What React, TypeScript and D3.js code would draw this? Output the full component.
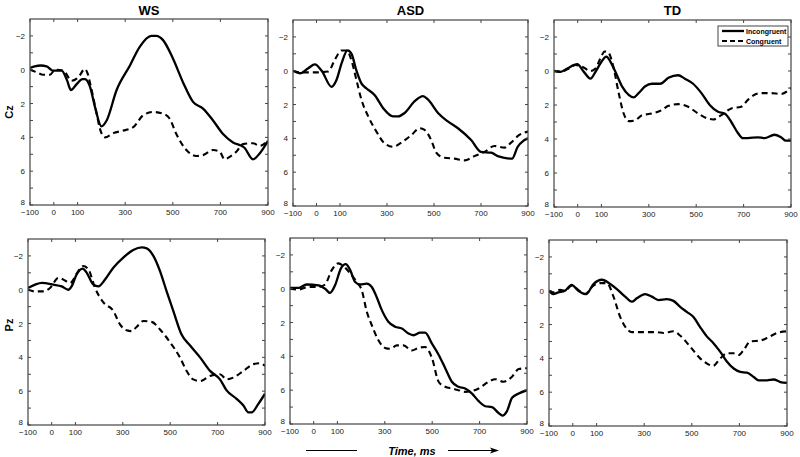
import React from 'react';
import * as d3 from 'd3';

type P = [number, number];

const groups = ['WS', 'ASD', 'TD'];
const electrodes = ['Cz', 'Pz'];
const xTickValues = [-100, 0, 100, 300, 500, 700, 900];
const yMinorTicks = [-2, -1, 0, 1, 2, 3, 4, 5, 6, 7, 8];
const yLabelTicks = [-2, 0, 2, 4, 6, 8];
const legendLabels = ['Incongruent', 'Congruent'];

// WS Cz
const wsCzInc: P[] = [[-100,-0.1],[-80,-0.2],[-55,-0.25],[-30,-0.2],[-5,0.05],[33,0.05],[55,0.6],[72,1.2],[96,0.85],[120,0.55],[131,0.55],[152,1.0],[173,2.2],[200,3.35],[222,3.0],[264,1.2],[320,-0.25],[361,-1.35],[410,-2.0],[431,-2.0],[459,-1.75],[501,-0.65],[543,0.75],[585,1.9],[627,2.3],[669,3.0],[711,3.8],[753,4.3],[800,4.6],[837,5.3],[865,4.95],[900,4.2]];
const wsCzCon: P[] = [[-100,0],[-72,0.15],[-44,0.3],[-16,0.3],[5,0],[40,0.05],[75,0.65],[103,0.45],[131,-0.05],[140,0.15],[159,1.2],[180,2.6],[194,3.5],[215,4.0],[250,3.75],[292,3.6],[334,3.4],[375,2.7],[417,2.5],[459,2.6],[487,2.9],[515,3.8],[557,4.75],[599,5.1],[627,5.05],[669,4.75],[697,4.85],[718,5.3],[739,5.15],[767,4.85],[795,4.4],[837,4.35],[865,4.5],[900,4.2]];
// ASD Cz
const asdCzInc: P[] = [[-100,0],[-70,0.15],[-35,-0.15],[-7,-0.37],[22,0],[64,0.95],[85,0.55],[107,-0.45],[132,-1.2],[149,-1.0],[170,0],[191,0.75],[213,1.05],[248,1.45],[283,2.2],[326,2.7],[347,2.7],[375,2.5],[418,1.8],[453,1.5],[474,1.7],[517,2.5],[559,3.0],[602,3.4],[658,4.1],[700,4.8],[743,4.85],[771,5.05],[800,5.15],[832,5.2],[856,4.5],[880,4.15],[900,4.0]];
const asdCzCon: P[] = [[-100,0],[-63,0.1],[-7,0.1],[50,0.05],[78,-0.65],[107,-1.2],[128,-1.2],[149,-0.6],[170,0.55],[191,1.7],[220,2.7],[255,3.6],[290,4.3],[326,4.5],[361,4.25],[404,3.8],[439,3.4],[460,3.5],[488,4.1],[510,4.85],[545,5.15],[587,5.2],[630,5.3],[672,5.05],[715,4.8],[757,4.45],[800,4.55],[828,4.25],[863,3.8],[900,3.6]];
// TD Cz
const tdCzInc: P[] = [[-100,0],[-72,0.05],[-44,-0.15],[-2,-0.4],[26,0.05],[54,0.45],[75,0.05],[96,-0.45],[121,-0.85],[138,-0.55],[159,0.05],[187,0.9],[215,1.4],[236,1.55],[257,1.3],[285,0.9],[313,0.75],[348,0.75],[383,0.4],[424,0.25],[452,0.45],[487,0.75],[522,1.3],[557,2.0],[592,2.4],[620,2.5],[648,3.0],[676,3.65],[697,3.95],[718,3.95],[760,3.9],[788,3.95],[830,3.75],[858,3.9],[879,4.1],[900,4.1]];
const tdCzCon: P[] = [[-100,0],[-72,0.05],[-37,-0.15],[-9,-0.35],[19,-0.25],[54,0],[75,-0.15],[96,-0.75],[114,-1.15],[131,-1.05],[152,-0.15],[173,1.3],[194,2.5],[215,2.95],[243,2.9],[271,2.6],[313,2.5],[355,2.3],[383,2.05],[424,1.95],[466,2.1],[508,2.5],[550,2.8],[571,2.85],[606,2.6],[648,2.2],[690,2.1],[718,1.7],[746,1.4],[774,1.3],[816,1.3],[858,1.35],[900,1.0]];
// WS Pz
const wsPzInc: P[] = [[-100,-0.1],[-70,-0.3],[-42,-0.4],[7,-0.3],[42,-0.2],[70,0],[84,-0.2],[105,-0.9],[131,-1.25],[148,-1.0],[176,-0.3],[197,-0.2],[225,-0.6],[260,-1.3],[302,-1.9],[344,-2.35],[380,-2.5],[401,-2.45],[429,-2.0],[457,-1.1],[485,0.1],[513,1.25],[548,2.65],[584,3.3],[626,4.0],[668,4.8],[710,5.3],[738,5.95],[780,6.45],[809,6.85],[830,7.25],[844,7.25],[872,6.75],[900,6.15]];
const wsPzCon: P[] = [[-100,0],[-70,0.1],[-35,0.1],[-7,-0.1],[28,-0.7],[56,-0.55],[77,-0.4],[112,-1.1],[133,-1.4],[155,-1.2],[183,-0.1],[218,0.75],[260,1.25],[288,2.05],[316,2.4],[337,2.45],[358,2.2],[387,1.85],[422,1.9],[457,2.35],[499,3.1],[541,4.0],[569,4.8],[597,5.3],[626,5.4],[668,5.1],[710,5.0],[738,5.3],[766,5.2],[809,4.8],[851,4.4],[879,4.35],[900,4.5]];
// ASD Pz
const asdPzInc: P[] = [[-100,-0.05],[-65,-0.05],[-30,-0.25],[20,-0.2],[48,0],[69,0.25],[90,-0.2],[115,-1.2],[135,-1.45],[154,-1.1],[175,-0.4],[196,-0.25],[224,-0.3],[245,-0.1],[266,0.5],[287,1.25],[315,1.95],[344,2.25],[372,2.35],[400,2.65],[421,2.75],[449,2.6],[470,2.6],[499,3.25],[527,3.9],[555,4.7],[583,5.5],[611,5.8],[639,5.9],[668,6.2],[696,6.65],[724,6.95],[752,7.0],[780,7.35],[797,7.5],[815,7.25],[837,6.45],[865,6.2],[900,6.0]];
const asdPzCon: P[] = [[-100,0],[-65,0.05],[-23,-0.1],[20,-0.1],[48,-0.25],[76,-1.1],[104,-1.5],[125,-1.35],[154,-0.9],[182,-0.4],[203,0.1],[224,1.35],[245,2.15],[273,3.05],[301,3.5],[323,3.55],[351,3.35],[379,3.35],[414,3.65],[442,3.5],[470,3.45],[499,4.1],[527,5.5],[555,5.8],[583,5.9],[611,6.0],[639,6.1],[668,6.05],[696,5.9],[738,5.5],[766,5.35],[801,5.5],[837,5.2],[865,4.75],[900,4.7]];
// TD Pz
const tdPzInc: P[] = [[-100,0],[-82,0.2],[-61,0.1],[-33,0],[-5,-0.35],[23,0],[56,0.2],[87,-0.4],[122,-0.65],[157,-0.4],[185,-0.1],[220,0.35],[248,0.65],[269,0.45],[304,0.2],[332,0.35],[360,0.55],[395,0.5],[423,0.6],[451,0.95],[479,1.25],[507,1.55],[535,2.15],[563,2.7],[591,3.1],[619,3.6],[648,4.2],[676,4.6],[704,4.8],[732,4.85],[760,5.1],[781,5.3],[816,5.3],[844,5.25],[872,5.4],[900,5.45]];
const tdPzCon: P[] = [[-100,0],[-82,0.1],[-54,-0.05],[-33,0],[-5,-0.3],[23,-0.05],[51,0.2],[87,-0.3],[115,-0.45],[143,-0.45],[171,0.35],[199,1.55],[227,2.25],[248,2.45],[297,2.45],[353,2.45],[381,2.5],[423,2.4],[451,2.65],[493,3.3],[535,4.0],[563,4.3],[589,4.45],[620,4.0],[648,3.7],[676,3.7],[697,3.8],[718,3.5],[746,3.0],[788,2.95],[816,2.8],[858,2.5],[900,2.4]];

const seriesByPanel: [P[], P[]][] = [
  [wsCzInc, wsCzCon], [asdCzInc, asdCzCon], [tdCzInc, tdCzCon],
  [wsPzInc, wsPzCon], [asdPzInc, asdPzCon], [tdPzInc, tdPzCon],
];

// panel boxes (layout)
const boxes = [
  { x0: 30, y0: 19, x1: 268, y1: 205 },
  { x0: 293, y0: 20, x1: 528, y1: 206 },
  { x0: 554, y0: 20, x1: 791, y1: 207 },
  { x0: 28, y0: 239, x1: 265, y1: 425 },
  { x0: 290, y0: 238, x1: 527, y1: 424 },
  { x0: 549, y0: 240, x1: 787, y1: 426 },
];

const FONT = 'Arial, "Liberation Sans", Helvetica, sans-serif';
const FRAME = '#444';

function Panel({ idx }: { idx: number }) {
  const b = boxes[idx];
  const x = d3.scaleLinear().domain([-100, 900]).range([b.x0, b.x1]);
  const y = d3.scaleLinear().domain([-3, 8]).range([b.y0, b.y1]);
  const line = d3.line<P>().x(d => x(d[0])).y(d => y(d[1])).curve(d3.curveMonotoneX);
  const [inc, con] = seriesByPanel[idx];
  const tk = 3;
  return (
    <g>
      <defs>
        <clipPath id={`clip${idx}`}>
          <rect x={b.x0} y={b.y0} width={b.x1 - b.x0} height={b.y1 - b.y0} />
        </clipPath>
      </defs>
      <g clipPath={`url(#clip${idx})`}>
        <path d={line(con) || ''} fill="none" stroke="#000" strokeWidth={2.1} strokeDasharray="6,4" />
        <path d={line(inc) || ''} fill="none" stroke="#000" strokeWidth={2.3} strokeLinejoin="round" />
      </g>
      <rect x={b.x0} y={b.y0} width={b.x1 - b.x0} height={b.y1 - b.y0} fill="none" stroke={FRAME} strokeWidth={1.2} />
      {xTickValues.map(t => (
        <g key={`x${t}`}>
          <line x1={x(t)} x2={x(t)} y1={b.y1} y2={b.y1 - tk} stroke={FRAME} />
          <line x1={x(t)} x2={x(t)} y1={b.y0} y2={b.y0 + tk} stroke={FRAME} />
          <text x={x(t)} y={b.y1 + 10} fontSize={8} textAnchor="middle" fontFamily={FONT} fill="#222">
            {t < 0 ? `\u2212${Math.abs(t)}` : t}
          </text>
        </g>
      ))}
      {yMinorTicks.map(v => (
        <g key={`y${v}`}>
          <line x1={b.x0} x2={b.x0 + tk} y1={y(v)} y2={y(v)} stroke={FRAME} />
          <line x1={b.x1} x2={b.x1 - tk} y1={y(v)} y2={y(v)} stroke={FRAME} />
        </g>
      ))}
      {yLabelTicks.map(v => (
        <text key={`yl${v}`} x={b.x0 - 5} y={y(v) + (v === 8 ? 0 : 3)} fontSize={8} textAnchor="end" fontFamily={FONT} fill="#222">
          {v < 0 ? `\u2212${Math.abs(v)}` : v}
        </text>
      ))}
      {idx < 3 && (
        <text x={(b.x0 + b.x1) / 2} y={15} fontSize={13} fontWeight="bold" textAnchor="middle" fontFamily={FONT}>
          {groups[idx]}
        </text>
      )}
      {idx === 2 && (
        <g>
          <rect x={b.x1 - 73} y={b.y0 + 6} width={70} height={20} fill="#fff" stroke={FRAME} strokeWidth={1} />
          <line x1={b.x1 - 69} x2={b.x1 - 47} y1={b.y0 + 11} y2={b.y0 + 11} stroke="#000" strokeWidth={2.3} />
          <line x1={b.x1 - 69} x2={b.x1 - 47} y1={b.y0 + 21} y2={b.y0 + 21} stroke="#000" strokeWidth={2.1} strokeDasharray="5,3" />
          <text x={b.x1 - 45} y={b.y0 + 13.5} fontSize={7} fontFamily={FONT} fontWeight="bold">{legendLabels[0]}</text>
          <text x={b.x1 - 45} y={b.y0 + 23.5} fontSize={7} fontFamily={FONT} fontWeight="bold">{legendLabels[1]}</text>
        </g>
      )}
    </g>
  );
}

export default function App() {
  return (
    <svg width={800} height={457} style={{ position: 'absolute', left: 0, top: 0, background: '#fff' }}>
      <rect x={0} y={0} width={800} height={457} fill="#fff" />
      {boxes.map((_, i) => <Panel key={i} idx={i} />)}
      <text transform="translate(13,112) rotate(-90)" fontSize={11} fontWeight="bold" textAnchor="middle" fontFamily={FONT}>{electrodes[0]}</text>
      <text transform="translate(13,325) rotate(-90)" fontSize={11} fontWeight="bold" textAnchor="middle" fontFamily={FONT}>{electrodes[1]}</text>
      <line x1={306} x2={357} y1={450.5} y2={450.5} stroke="#000" strokeWidth={1.2} />
      <text x={412} y={454.5} fontSize={11} fontWeight="bold" fontStyle="italic" textAnchor="middle" fontFamily={FONT}>Time, ms</text>
      <line x1={448} x2={494} y1={450.5} y2={450.5} stroke="#000" strokeWidth={1.2} />
      <path d="M 499 450.5 L 490 447.5 L 492 450.5 L 490 453.5 Z" fill="#000" />
    </svg>
  );
}
